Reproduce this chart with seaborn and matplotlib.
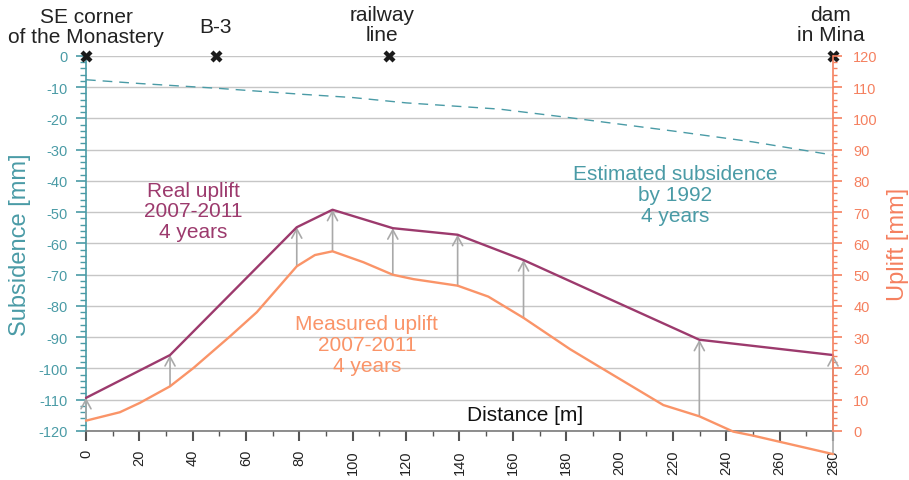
import numpy as np
import pandas as pd
import matplotlib
matplotlib.use("Agg")
import matplotlib.pyplot as plt
from matplotlib.ticker import MultipleLocator
import seaborn as sns

# Real uplift 2007-2011 (uplift axis, mm)
real_x = [0, 31.5, 79, 92.4, 115, 139.3, 164, 229.9, 280]
real_y = [10.6, 24.3, 65.2, 70.8, 64.9, 62.8, 54.7, 29.2, 24.3]

# Measured uplift 2007-2011 (uplift axis, mm)
meas_x = [0, 12.7, 20.2, 31.5, 40.2, 54, 64, 79, 85.8, 92.4, 104, 115, 122.7,
          139.3, 150.8, 164, 181.4, 192.7, 216.4, 229.9, 242.6, 250.1, 280]
meas_y = [3.3, 6.0, 9.0, 14.3, 20.1, 30.3, 38.0, 52.7, 56.3, 57.5, 54.0, 50.0, 48.6,
          46.5, 43.0, 36.2, 26.2, 20.4, 8.3, 4.7, -0.2, -1.5, -7.4]

# Estimated subsidence by 1992 (subsidence axis, mm)
sub_x = [0, 20, 48.7, 80, 100, 120, 155, 180, 192.7, 220, 250, 280]
sub_y = [-7.6, -8.8, -10.3, -12.2, -13.3, -15.0, -17.0, -19.6, -21.0, -24.0, -27.5, -31.7]

# Arrows from measured to real uplift
arrow_x = [0, 31.5, 79, 92.4, 115, 139.3, 164, 229.9, 280]
arrow_from = [3.3, 14.3, 52.7, 57.5, 50.0, 46.5, 36.2, 4.7, -7.4]
arrow_to = [10.6, 24.3, 65.2, 70.8, 64.9, 62.8, 54.7, 29.2, 24.3]

# Landmarks along the profile
site_x = [0, 48.7, 113.6, 280]
site_labels = ["SE corner\nof the Monastery", "B-3", "railway\nline", "dam\nin Mina"]
site_label_x = [0, 48.7, 110.9, 279]
site_label_y = [1.026, 1.053, 1.031, 1.031]

TEAL = "#4a9ba6"
PURPLE = "#9c3a6d"
ORANGE_LINE = "#fa9468"
ORANGE_AX = "#f5805f"
GRID = "#c6c6c6"

sns.set_theme(style="white")
plt.rcParams["font.family"] = ["Liberation Sans", "DejaVu Sans"]
plt.rcParams["axes.unicode_minus"] = False

fig = plt.figure(figsize=(9.09, 4.81), dpi=100)
ax = fig.add_axes([0.0946, 0.1019, 0.8218, 0.7796])
ax2 = ax.twinx()

ax.set_xlim(0, 280)
ax.set_ylim(-120, 0)
ax2.set_ylim(0, 120)

# horizontal gridlines every 10 mm
for v in range(-120, 1, 10):
    ax.axhline(v, color=GRID, lw=1.0, zorder=0)

sub_df = pd.DataFrame({"x": sub_x, "y": sub_y})
sns.lineplot(data=sub_df, x="x", y="y", ax=ax, color=TEAL, lw=1.0,
             linestyle=(0, (7, 5)), sort=False)

meas_df = pd.DataFrame({"x": meas_x, "y": meas_y})
real_df = pd.DataFrame({"x": real_x, "y": real_y})
sns.lineplot(data=meas_df, x="x", y="y", ax=ax2, color=ORANGE_LINE, lw=1.7, sort=False)
sns.lineplot(data=real_df, x="x", y="y", ax=ax2, color=PURPLE, lw=1.7, sort=False)
for ln in ax2.lines:
    ln.set_clip_on(False)

for xa, y0, y1 in zip(arrow_x, arrow_from, arrow_to):
    ax2.annotate("", xy=(xa, y1), xytext=(xa, y0),
                 arrowprops=dict(arrowstyle="->,head_length=0.55,head_width=0.3",
                                 color="#a9a9a9", lw=1.2, shrinkA=0, shrinkB=0),
                 annotation_clip=False, zorder=1)

# landmark markers and labels
ax.scatter(site_x, [0] * len(site_x), marker="X", s=75, color="#1a1a1a",
           clip_on=False, zorder=6, linewidths=0)
for xs, lab, ly in zip(site_label_x, site_labels, site_label_y):
    ax.text(xs, ly, lab, transform=ax.get_xaxis_transform(), ha="center", va="bottom",
            fontsize=15, color="#222222", linespacing=1.1)

# axes styling
ax.set_xlabel("")
ax2.set_xlabel("")
ax.set_ylabel("Subsidence [mm]", color=TEAL, fontsize=17, labelpad=5)
ax2.set_ylabel("Uplift [mm]", color=ORANGE_AX, fontsize=17, labelpad=7)

ax.xaxis.set_major_locator(MultipleLocator(20))
ax.xaxis.set_minor_locator(MultipleLocator(10))
ax.yaxis.set_major_locator(MultipleLocator(10))
ax.yaxis.set_minor_locator(MultipleLocator(2))
ax2.yaxis.set_major_locator(MultipleLocator(10))
ax2.yaxis.set_minor_locator(MultipleLocator(2))

ax.spines["top"].set_visible(False)
ax2.spines["top"].set_visible(False)
ax.spines["right"].set_visible(False)
ax2.spines["left"].set_visible(False)
ax2.spines["bottom"].set_visible(False)
ax.spines["left"].set_color(TEAL)
ax.spines["bottom"].set_color("#7a7a7a")
ax2.spines["right"].set_color(ORANGE_AX)
for sp in [ax.spines["left"], ax.spines["bottom"], ax2.spines["right"]]:
    sp.set_linewidth(1.2)

ax.tick_params(axis="y", which="major", colors=TEAL, labelsize=10.5, direction="out",
               length=7, width=1.2, left=True, pad=6)
ax.tick_params(axis="y", which="minor", colors=TEAL, direction="out", length=4, width=1, left=True)
ax2.tick_params(axis="y", which="major", colors=ORANGE_AX, labelsize=10.5, direction="out",
                length=6.5, width=1.2, right=True, pad=8)
ax2.tick_params(axis="y", which="minor", colors=ORANGE_AX, direction="out", length=3, width=1, right=True)
ax.tick_params(axis="x", which="major", colors="#555555", labelcolor="#222222", labelsize=10.5,
               direction="out", length=7, width=1.5, bottom=True, labelrotation=90, pad=6)
ax.tick_params(axis="x", which="minor", colors="#555555", direction="out", length=3.5, width=1, bottom=True)

# series annotations
ax.text(40.1, -49.6, "Real uplift\n2007-2011\n4 years", ha="center", va="center",
        fontsize=15, color=PURPLE, linespacing=1.13)
ax.text(220.8, -44.2, "Estimated subsidence\nby 1992\n4 years", ha="center", va="center",
        fontsize=15, color=TEAL, linespacing=1.13)
ax.text(105.3, -92.2, "Measured uplift\n2007-2011\n4 years", ha="center", va="center",
        fontsize=15, color=ORANGE_LINE, linespacing=1.13)
ax.text(164.5, -114.6, "Distance [m]", ha="center", va="center",
        fontsize=15, color="#111111")

fig.savefig("out.png", dpi=100)
